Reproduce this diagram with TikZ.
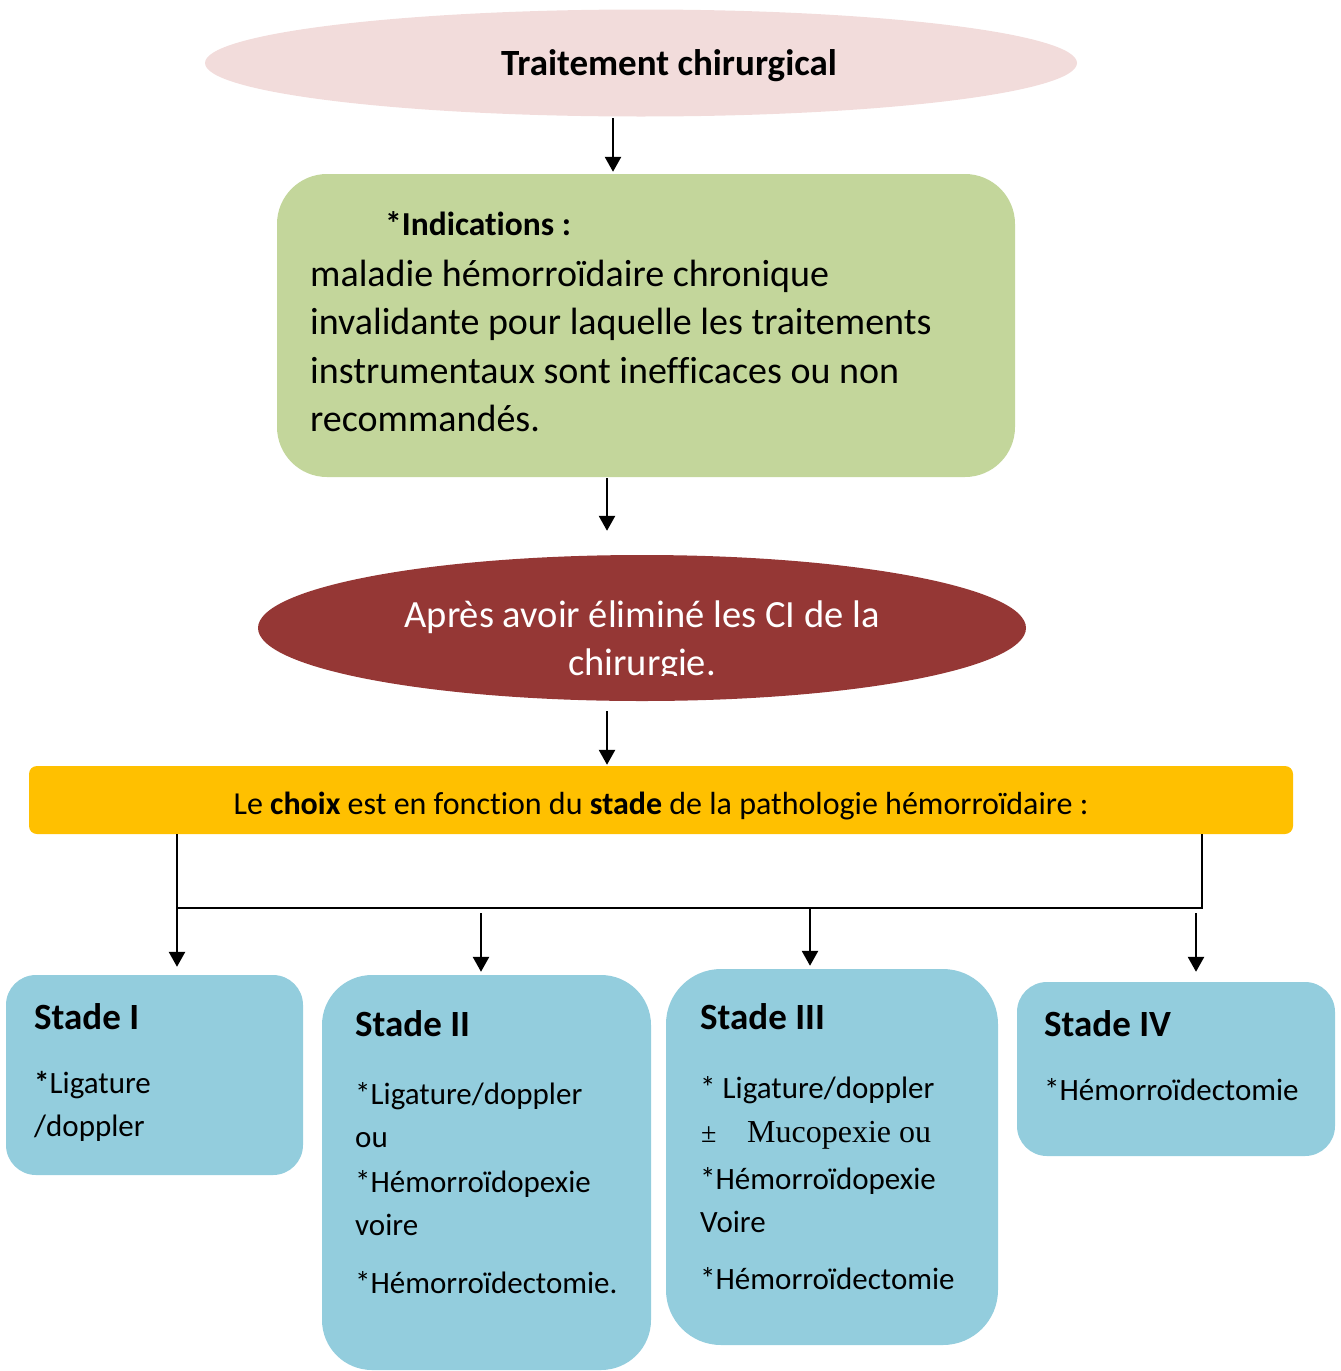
\documentclass[tikz,border=0pt]{standalone}
\usepackage{fontspec}
\setmainfont{Carlito}[Ligatures=NoCommon,Contextuals=NoAlternate]
\newfontfamily\serifx{Liberation Serif}
\usetikzlibrary{shapes.geometric,arrows.meta}
\definecolor{pinkfill}{HTML}{F2DCDB}
\definecolor{greenfill}{HTML}{C3D69B}
\definecolor{redfill}{HTML}{953735}
\definecolor{yellowfill}{HTML}{FFC000}
\definecolor{bluefill}{HTML}{93CDDD}
\begin{document}
\begin{tikzpicture}[x=1pt,y=-1pt,
  arr/.style={line width=2.6pt,-{Triangle[length=15pt,width=16pt]}},
  conn/.style={line width=2.4pt},
  txt/.style={anchor=base west,inner sep=0pt},
  body/.style={txt,font=\fontsize{38}{46}\selectfont},
  stg/.style={txt,font=\fontsize{31}{36}\selectfont},
  stgtitle/.style={txt,font=\fontsize{37}{44}\selectfont\bfseries},
  stagebox/.style={rectangle,fill=bluefill,inner sep=0pt}
]
\useasboundingbox (0,0) rectangle (1341,1371);

% top ellipse
\node[ellipse,fill=pinkfill,inner sep=0pt,minimum width=872pt,minimum height=107pt] (top) at (641,63) {};
\node[anchor=base,inner sep=0pt,font=\fontsize{37}{44}\selectfont\bfseries] (toptxt) at (669,75) {Traitement chirurgical};

% green box
\node[rectangle,rounded corners=50pt,fill=greenfill,inner sep=0pt,minimum width=738pt,minimum height=303pt] (green) at (646,325.5) {};
\node[txt,font=\fontsize{33.5}{40}\selectfont\bfseries] (ind) at (385,235) {*Indications :};
\node[body] (g1) at (310,286) {maladie hémorroïdaire chronique};
\node[body] (g2) at (310,334) {invalidante pour laquelle les traitements};
\node[body] (g3) at (310,383) {instrumentaux sont inefficaces ou non};
\node[body] (g4) at (310,431) {recommandés.};

% red ellipse
\node[ellipse,fill=redfill,inner sep=0pt,minimum width=768pt,minimum height=146pt] (red) at (642,628) {};
\begin{scope}
\clip (250,560) rectangle (1040,675.5);
\node[anchor=base,inner sep=0pt,text=white,font=\fontsize{38.5}{46}\selectfont] (r1) at (642,627) {Après avoir éliminé les CI de la};
\node[anchor=base,inner sep=0pt,text=white,font=\fontsize{38.5}{46}\selectfont] (r2) at (642,675) {chirurgie.};
\end{scope}

% yellow bar
\node[rectangle,rounded corners=8pt,fill=yellowfill,inner sep=0pt,minimum width=1264pt,minimum height=68pt] (bar) at (661,800) {};
\node[anchor=base,inner sep=0pt,font=\fontsize{32}{38}\selectfont] (bartxt) at (661,814) {Le \textbf{choix} est en fonction du \textbf{stade} de la pathologie hémorroïdaire :};

% stage boxes
\node[stagebox,rounded corners=30pt,minimum width=297pt,minimum height=200pt] (s1) at (154.5,1075) {};
\node[stagebox,rounded corners=50pt,minimum width=329pt,minimum height=395pt] (s2) at (486.5,1172.5) {};
\node[stagebox,rounded corners=55pt,minimum width=332pt,minimum height=376pt] (s3) at (832,1157) {};
\node[stagebox,rounded corners=30pt,minimum width=318pt,minimum height=174pt] (s4) at (1176,1069) {};

% stage texts
\node[stgtitle] (s1t) at (34,1029) {Stade I};
\node[stg] (s1a) at (34,1093) {\textbf{*}Ligature};
\node[stg] (s1b) at (34,1136) {/doppler};

\node[stgtitle] (s2t) at (355,1036) {Stade II};
\node[stg] (s2a) at (355,1104) {*Ligature/doppler};
\node[stg] (s2b) at (355,1147) {ou};
\node[stg] (s2c) at (355,1192) {*Hémorroïdopexie};
\node[stg] (s2d) at (355,1235) {voire};
\node[stg] (s2e) at (355,1293) {*Hémorroïdectomie.};

\node[stgtitle] (s3t) at (700,1029) {Stade III};
\node[stg] (s3a) at (700,1098) {* Ligature/doppler};
\node[txt,font=\fontsize{28}{34}\serifx] (s3pm) at (701,1142) {±};
\node[txt,font=\fontsize{32}{38}\serifx] (s3b) at (747,1142) {Mucopexie ou};
\node[stg] (s3c) at (700,1189) {*Hémorroïdopexie};
\node[stg] (s3d) at (700,1232) {Voire};
\node[stg] (s3e) at (700,1289) {*Hémorroïdectomie};

\node[stgtitle] (s4t) at (1044,1036) {Stade IV};
\node[stg] (s4a) at (1044,1100) {*Hémorroïdectomie};

% connectors
\coordinate (a1) at (613,118);
\coordinate (a2) at (607,478);
\coordinate (a3) at (607,711);
\draw[arr,shorten >=2pt] (a1) -- (a1 |- green.north);
\draw[arr,shorten >=24pt] (a2) -- (a2 |- red.north);
\draw[arr,shorten >=1pt] (a3) -- (a3 |- bar.north);

\coordinate (bl) at (177,834);
\coordinate (br) at (1202,834);
\coordinate (hl) at (177,908);
\coordinate (hr) at (1202,908);
\coordinate (j2) at (481,913);
\coordinate (j3) at (810,908);
\coordinate (j4) at (1196,913);
\draw[conn] (bl |- bar.south) -- (hl) -- (hr) -- (br |- bar.south);
\draw[arr,shorten >=8pt] (hl) -- (hl |- s1.north);
\draw[arr,shorten >=3pt] (j2) -- (j2 |- s2.north);
\draw[arr,shorten >=3pt] (j3) -- (j3 |- s3.north);
\draw[arr,shorten >=10pt] (j4) -- (j4 |- s4.north);
\end{tikzpicture}
\end{document}
